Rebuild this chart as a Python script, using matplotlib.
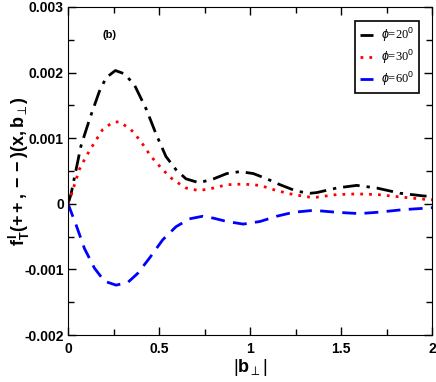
import matplotlib
matplotlib.use("Agg")
import matplotlib.pyplot as plt
from matplotlib.ticker import MultipleLocator

plt.rcParams['mathtext.fontset'] = 'custom'
plt.rcParams['mathtext.rm'] = 'Liberation Sans'
plt.rcParams['mathtext.bf'] = 'Liberation Sans:bold'
plt.rcParams['mathtext.it'] = 'Liberation Sans:italic'

# values
x20 = [0, 0.016, 0.071, 0.121, 0.172, 0.209, 0.26, 0.31, 0.365, 0.43, 0.484, 0.538, 0.593, 0.648,
       0.72, 0.80, 0.872, 0.945, 1.018, 1.092, 1.165, 1.257, 1.33, 1.366, 1.476, 1.586, 1.696,
       1.824, 1.95, 2.0]
y20 = [0, 0.00014, 0.00088, 0.00131, 0.00171, 0.00192, 0.00203, 0.00198, 0.00181, 0.00144,
       0.00106, 0.00072, 0.00052, 0.00038, 0.00032, 0.00038, 0.00046, 0.00049, 0.00046,
       0.00038, 0.00029, 0.00019, 0.00016, 0.00017, 0.00024, 0.00028, 0.00024, 0.00016,
       0.00012, 0.00011]

x30 = [0, 0.016, 0.062, 0.099, 0.145, 0.19, 0.245, 0.282, 0.346, 0.40, 0.456, 0.52, 0.575, 0.648,
       0.72, 0.80, 0.872, 0.963, 1.055, 1.147, 1.238, 1.33, 1.366, 1.476, 1.586, 1.70, 1.84,
       1.95, 2.0]
y30 = [0, 0.00012, 0.00052, 0.00072, 0.00093, 0.00113, 0.00124, 0.00125, 0.00113, 0.00095,
       0.00072, 0.00052, 0.00037, 0.00024, 0.0002, 0.00024, 0.00029, 0.0003, 0.00028, 0.0002,
       0.00014, 0.0001, 0.0001, 0.00014, 0.00015, 0.00014, 0.0001, 0.00007, 0.00006]

x60 = [0, 0.044, 0.09, 0.145, 0.2, 0.264, 0.328, 0.383, 0.447, 0.52, 0.593, 0.667, 0.74, 0.80,
       0.872, 0.963, 1.055, 1.147, 1.238, 1.35, 1.476, 1.6, 1.7, 1.84, 1.95, 2.0]
y60 = [0, -0.00032, -0.00068, -0.00098, -0.00118, -0.00124, -0.0012, -0.00106, -0.00083,
       -0.00055, -0.00035, -0.00023, -0.00019, -0.00022, -0.00027, -0.00031, -0.00027,
       -0.00019, -0.00013, -0.0001, -0.00013, -0.00015, -0.00013, -0.00009, -0.00007, -0.00006]

labels = [r'$\phi$=20$^{0}$', r'$\phi$=30$^{0}$', r'$\phi$=60$^{0}$']
xticks = [0, 0.5, 1, 1.5, 2]
xticklabels = ['0', '0.5', '1', '1.5', '2']
yticks = [-0.002, -0.001, 0, 0.001, 0.002, 0.003]
yticklabels = ['-0.002', '-0.001', '0', '0.001', '0.002', '0.003']

fig = plt.figure(figsize=(4.36, 3.82), dpi=100)
ax = fig.add_axes([0.156, 0.123, 0.835, 0.859])

ax.plot(x20, y20, color='black', lw=2, linestyle=(0, (6, 2.5, 1.2, 2.5)), label=labels[0])
ax.plot(x30, y30, color='red', lw=2, linestyle=(0, (1, 2.2)), label=labels[1])
ax.plot(x60, y60, color='blue', lw=2, linestyle=(0, (5, 3)), label=labels[2])

ax.set_xlim(0, 2)
ax.set_ylim(-0.002, 0.003)
ax.set_xticks(xticks)
ax.set_xticklabels(xticklabels)
ax.set_yticks(yticks)
ax.set_yticklabels(yticklabels)
ax.xaxis.set_minor_locator(MultipleLocator(0.25))
ax.yaxis.set_minor_locator(MultipleLocator(0.0005))
ax.tick_params(which='both', direction='in', top=True, right=True)
ax.tick_params(which='major', length=6, width=1)
ax.tick_params(axis='x', which='major', pad=5)
ax.tick_params(axis='y', which='major', pad=3)
ax.tick_params(which='minor', length=4, width=1)
for t in ax.get_xticklabels() + ax.get_yticklabels():
    t.set_fontsize(10)
    t.set_fontweight('bold')
    t.set_family('Liberation Sans')

ax.set_ylabel(r'$\mathbf{f}^{\,\mathbf{I}}_{\mathbf{T}}\mathbf{(++,--)(x,b}_{\perp}\mathbf{)}$', fontsize=13)
ax.yaxis.set_label_coords(-0.10, 0.5)
ax.set_xlabel(r'$|\mathbf{b}_{\perp}|$', fontsize=13, labelpad=1)
ax.text(0.19, 0.00252, '(b)', fontsize=8, fontweight='bold', family='Liberation Sans')

leg = ax.legend(loc='upper right', bbox_to_anchor=(0.964, 0.957), borderaxespad=0, fancybox=False,
                edgecolor='black', handlelength=1.1, prop={'family': 'Liberation Serif', 'size': 9},
                borderpad=0.4, labelspacing=0.3, handletextpad=0.6, framealpha=1)
leg.get_frame().set_linewidth(1.2)

fig.savefig('out.png', dpi=100)
